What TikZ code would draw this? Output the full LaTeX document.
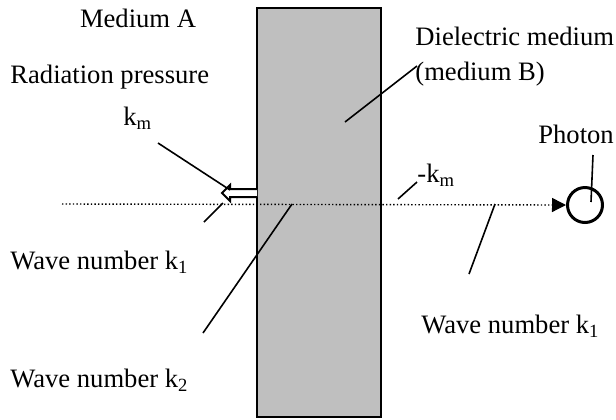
\documentclass[tikz,border=0pt]{standalone}
\usepackage{fontspec}
\setmainfont{Liberation Serif}
\usetikzlibrary{arrows.meta}

\begin{document}
\begin{tikzpicture}[x=0.5pt,y=-0.5pt,font=\fontsize{13.3}{15}\selectfont,
  leader/.style={line width=0.8pt},
  lab/.style={anchor=base west,inner sep=0pt}]
\useasboundingbox (0,0) rectangle (616,419);
% dielectric slab (medium B)
\draw[fill=black!25,line width=0.9pt] (257,8) rectangle (381,417);
% labels
\node[anchor=base,inner sep=0pt] (medA) at (138,27) {Medium A};
\node[lab] (radp) at (10,83) {Radiation pressure};
\node[lab] (km) at (123,125) {k\textsubscript{m}};
\node[lab] (diel) at (415,45) {Dielectric medium};
\node[lab] (dielb) at (415,80) {(medium B)};
\node[lab] (phot) at (538,143) {Photon};
\node[lab] (mkm) at (417,182) {-k\textsubscript{m}};
\node[lab] (wkl) at (10,269) {Wave number k\textsubscript{1}};
\node[lab] (wkr) at (421,333) {Wave number k\textsubscript{1}};
\node[lab] (wkb) at (10,387) {Wave number k\textsubscript{2}};
% photon
\node[circle,draw,line width=1.5pt,minimum size=17.5pt,inner sep=0pt] (photon) at (585,205) {};
% beam
\coordinate (beam) at (62,204);
\draw[line width=0.7pt,dash pattern=on 0.7pt off 1.1pt,-{Triangle[length=7pt,width=7pt]}] (beam) -- (photon.west);
% radiation pressure arrow
\draw[line width=1pt,fill=white] (257,189) -- (230,189) -- (230,185) -- (222,193) -- (230,201) -- (230,197) -- (257,197);
% leaders
\coordinate (kmA) at (158,143);  \coordinate (kmB) at (230,190);
\coordinate (wlA) at (204,222);  \coordinate (wlB) at (223,203);
\coordinate (wbA) at (203,333);  \coordinate (wbB) at (292,204);
\coordinate (dlA) at (417,66);   \coordinate (dlB) at (345,122);
\coordinate (mkA) at (417,182);  \coordinate (mkB) at (398,199);
\coordinate (wrA) at (495,204);  \coordinate (wrB) at (469,274);
\coordinate (phA) at (593,155);  \coordinate (phB) at (591,202);
\draw[leader] (kmA) -- (kmB);
\draw[leader] (wlA) -- (wlB);
\draw[leader] (wbA) -- (wbB);
\draw[leader] (dlA) -- (dlB);
\draw[leader] (mkA) -- (mkB);
\draw[leader] (wrA) -- (wrB);
\draw[leader] (phA) -- (phB);
\end{tikzpicture}
\end{document}
